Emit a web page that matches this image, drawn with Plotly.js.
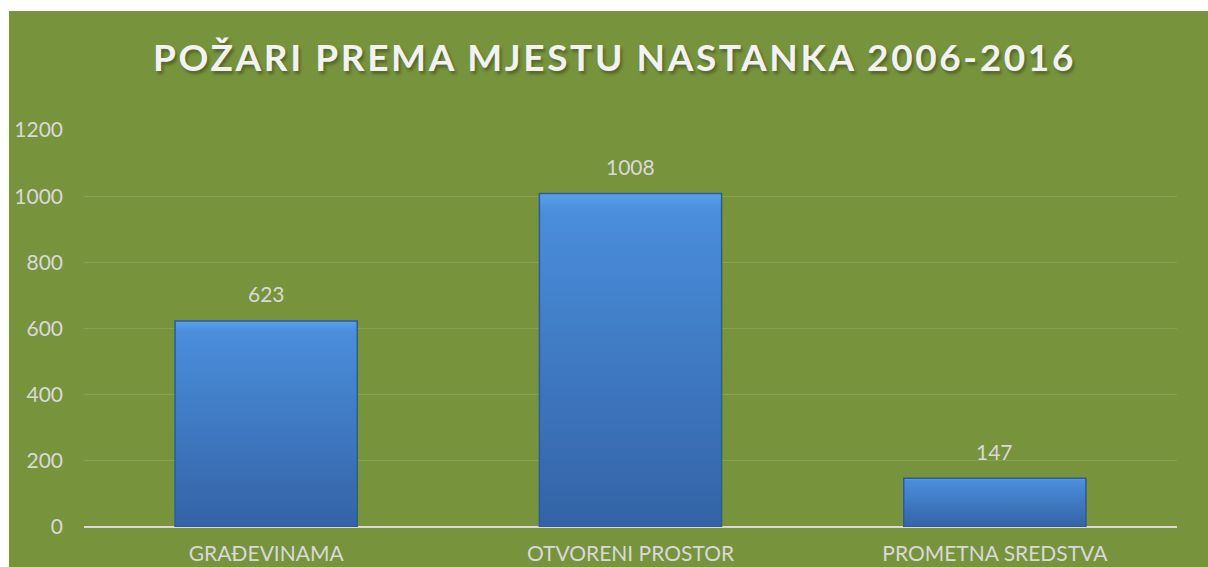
<!DOCTYPE html>
<html>
<head>
<meta charset="utf-8">
<script src="https://cdn.plot.ly/plotly-3.0.1.min.js"></script>
<style>
  html, body { margin: 0; padding: 0; background: #ffffff; }
  #chart { position: absolute; left: 9px; top: 11px; width: 1199px; height: 556px; }
  .gtitle { letter-spacing: 2.6px; text-shadow: 2px 3px 3px rgba(0,0,0,0.3); }
</style>
</head>
<body>
<div id="chart"></div>
<script>
const categories = ["GRAĐEVINAMA", "OTVORENI PROSTOR", "PROMETNA SREDSTVA"];
const values = [623, 1008, 147];
const tickValues = [0, 200, 400, 600, 800, 1000, 1200];
const titleText = "POŽARI PREMA MJESTU NASTANKA 2006-2016";

const textColor = "#D9D9D9";
const fontFam = "Lato, 'Open Sans', sans-serif";

const trace = {
  type: "bar",
  x: categories,
  y: values,
  width: 0.5,
  marker: { color: "#3E7FCC", line: { color: "#2C5C99", width: 1.5 } },
  hoverinfo: "none"
};

const annotations = categories.map((c, i) => ({
  x: c, y: values[i], xref: "x", yref: "y",
  text: String(values[i]), showarrow: false,
  yshift: 27, font: { family: fontFam, size: 21, color: textColor }
}));

const layout = {
  width: 1199, height: 556,
  paper_bgcolor: "#77933C",
  plot_bgcolor: "#77933C",
  margin: { l: 75, r: 31, t: 119, b: 40 },
  title: {
    text: "<b>" + titleText + "</b>",
    font: { family: fontFam, size: 37, color: "#F2F2F2" },
    x: 0.505, xanchor: "center", xref: "container",
    y: 0.915, yanchor: "middle", yref: "container"
  },
  showlegend: false,
  bargap: 0.5,
  xaxis: {
    type: "category",
    showgrid: false, zeroline: false, showline: false,
    ticks: "",
    tickfont: { family: fontFam, size: 21, color: textColor },
    ticklabelstandoff: 12
  },
  yaxis: {
    range: [0, 1200],
    tickvals: tickValues,
    ticktext: tickValues.map(String),
    showgrid: true, gridcolor: "#86A24E", gridwidth: 1,
    zeroline: true, zerolinecolor: "#D9D9D9", zerolinewidth: 2,
    showline: false, ticks: "",
    tickfont: { family: fontFam, size: 21, color: textColor },
    ticklabelstandoff: 20
  },
  annotations: annotations
};

Plotly.newPlot("chart", [trace], layout, { staticPlot: true, displayModeBar: false }).then(gd => {
  const svg = gd.querySelector("svg.main-svg");
  const ns = "http://www.w3.org/2000/svg";
  let defs = svg.querySelector("defs");
  if (!defs) { defs = document.createElementNS(ns, "defs"); svg.insertBefore(defs, svg.firstChild); }
  const grad = document.createElementNS(ns, "linearGradient");
  grad.setAttribute("id", "barGrad");
  grad.setAttribute("x1", "0"); grad.setAttribute("y1", "0");
  grad.setAttribute("x2", "0"); grad.setAttribute("y2", "1");
  [["0%", "#5AA0EC"], ["5%", "#4A8EDC"], ["100%", "#3363A6"]].forEach(([o, c]) => {
    const s = document.createElementNS(ns, "stop");
    s.setAttribute("offset", o); s.setAttribute("stop-color", c);
    grad.appendChild(s);
  });
  defs.appendChild(grad);
  gd.querySelectorAll(".bars .point path").forEach(p => {
    p.style.fill = "url(#barGrad)";
  });
});
</script>
</body>
</html>
